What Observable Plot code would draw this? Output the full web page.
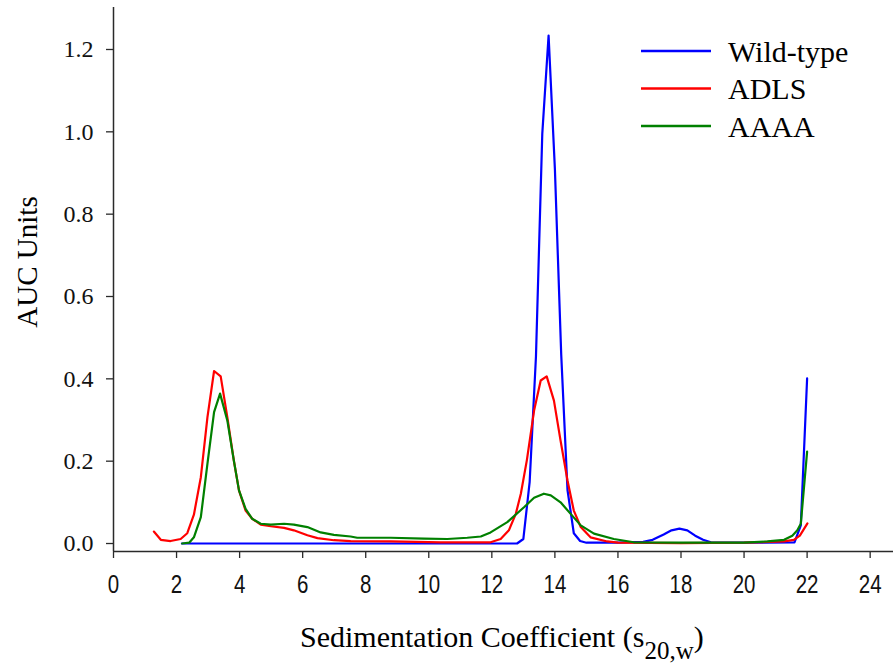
<!DOCTYPE html>
<html>
<head>
<meta charset="utf-8">
<script src="https://cdn.jsdelivr.net/npm/d3@7"></script>
<script src="https://cdn.jsdelivr.net/npm/@observablehq/plot@0.6"></script>
<style>
  html, body { margin: 0; padding: 0; background: #fff; }
  #chart { width: 893px; height: 671px; }
</style>
</head>
<body>
<div id="chart"></div>
<script>
// ---- Data ----
const seriesNames = ["Wild-type", "ADLS", "AAAA"];
const seriesColors = ["#0000ff", "#ff0000", "#008000"];

const wtS = [2.17, 4, 6, 8, 10, 12, 12.8, 13.0, 13.2, 13.4, 13.6, 13.8, 14.0, 14.2, 14.4, 14.6, 14.8, 15.0, 16.0, 16.8, 17.1, 17.45, 17.7, 17.95, 18.2, 18.45, 18.7, 18.95, 20.0, 21.6, 21.8, 22.0];
const wtV = [0, 0, 0, 0, 0, 0, 0, 0.011, 0.15, 0.455, 0.995, 1.234, 0.91, 0.46, 0.13, 0.025, 0.006, 0.002, 0.002, 0.004, 0.009, 0.022, 0.032, 0.036, 0.032, 0.019, 0.009, 0.003, 0.002, 0.003, 0.044, 0.401];

const adlsS = [1.28, 1.5, 1.81, 2.13, 2.34, 2.55, 2.77, 2.98, 3.19, 3.4, 3.61, 3.82, 3.98, 4.19, 4.4, 4.67, 4.99, 5.41, 5.72, 6.15, 6.47, 6.99, 7.52, 8.79, 10.38, 11.65, 11.96, 12.28, 12.54, 12.76, 12.92, 13.11, 13.34, 13.55, 13.74, 13.97, 14.18, 14.4, 14.6, 14.82, 15.13, 15.66, 16.0, 18.0, 20.0, 21.27, 21.58, 21.77, 22.01];
const adlsV = [0.029, 0.009, 0.006, 0.011, 0.025, 0.07, 0.161, 0.307, 0.419, 0.406, 0.307, 0.2, 0.129, 0.08, 0.06, 0.046, 0.042, 0.038, 0.032, 0.02, 0.013, 0.008, 0.006, 0.005, 0.003, 0.003, 0.003, 0.011, 0.032, 0.072, 0.121, 0.202, 0.323, 0.396, 0.406, 0.347, 0.25, 0.153, 0.08, 0.04, 0.015, 0.005, 0.002, 0.001, 0.002, 0.005, 0.009, 0.019, 0.049];

const aaaaS = [2.18, 2.4, 2.55, 2.77, 2.98, 3.19, 3.38, 3.61, 3.82, 3.98, 4.19, 4.4, 4.67, 4.99, 5.41, 5.72, 6.15, 6.57, 6.99, 7.52, 7.73, 8.79, 9.85, 10.59, 11.22, 11.65, 11.96, 12.49, 13.02, 13.34, 13.65, 13.87, 14.18, 14.5, 14.82, 15.24, 15.87, 16.5, 18.0, 20.0, 20.74, 21.27, 21.53, 21.69, 21.8, 22.0];
const aaaaV = [0, 0.002, 0.015, 0.064, 0.194, 0.319, 0.364, 0.299, 0.2, 0.129, 0.084, 0.06, 0.048, 0.046, 0.048, 0.046, 0.04, 0.027, 0.021, 0.017, 0.014, 0.014, 0.012, 0.011, 0.014, 0.017, 0.027, 0.052, 0.088, 0.111, 0.121, 0.117, 0.1, 0.072, 0.044, 0.024, 0.011, 0.003, 0.002, 0.002, 0.005, 0.009, 0.019, 0.032, 0.048, 0.223];

const xTicks = [0, 2, 4, 6, 8, 10, 12, 14, 16, 18, 20, 22, 24];
const yTicks = [0, 0.2, 0.4, 0.6, 0.8, 1.0, 1.2];
const xDomain = [0, 24.74];
const yDomain = [-0.0194, 1.302];

// ---- Build table ----
const pairs = [[wtS, wtV], [adlsS, adlsV], [aaaaS, aaaaV]];
const rows = [];
pairs.forEach(([S, V], i) => S.forEach((s, j) => rows.push({series: seriesNames[i], s, v: V[j]})));

const serif = "'Liberation Serif', 'Times New Roman', serif";
const sans = "'Liberation Sans', Arial, sans-serif";
const axisColor = "#2a2a2a";

const plot = Plot.plot({
  width: 893,
  height: 671,
  marginLeft: 113,
  marginRight: 0,
  marginTop: 7,
  marginBottom: 120,
  style: {background: "#fff", overflow: "visible"},
  x: {domain: xDomain},
  y: {domain: yDomain},
  color: {domain: seriesNames, range: seriesColors},
  marks: [
    Plot.axisX({ticks: xTicks, tickSize: 7, tickPadding: 17, label: null, stroke: axisColor, strokeWidth: 1.3, fill: "#111"}),
    Plot.axisY({ticks: yTicks, tickSize: 7, tickPadding: 13, tickFormat: d3.format(".1f"), label: null, stroke: axisColor, strokeWidth: 1.3, fill: "#111"}),
    Plot.ruleX([xDomain[0]], {stroke: axisColor, strokeWidth: 1.5}),
    Plot.ruleY([yDomain[0]], {stroke: axisColor, strokeWidth: 1.5}),
    Plot.line(rows, {x: "s", y: "v", z: "series", stroke: "series", strokeWidth: 2.2, curve: "linear"})
  ]
});

const svg = d3.select(plot);

// style tick labels: y labels contain a decimal point, x labels do not
svg.selectAll("text").each(function() {
  const t = d3.select(this);
  const s = this.textContent || "";
  if (s.includes(".")) {
    t.attr("font-family", serif).attr("font-size", 24)
     .style("font-family", serif).style("font-size", "24px");
  } else {
    t.attr("font-family", sans).attr("font-size", 25)
     .style("font-family", sans).style("font-size", "25px")
     .attr("transform", (t.attr("transform") || "") + " scale(0.82,1)");
  }
});

// Y-axis label
svg.append("text")
  .attr("transform", "translate(37,262) rotate(-90)")
  .attr("text-anchor", "middle")
  .attr("font-family", serif)
  .attr("font-size", 29)
  .attr("fill", "#000")
  .text("AUC Units");

// X-axis label with subscript
const xl = svg.append("text")
  .attr("x", 300)
  .attr("y", 647)
  .attr("text-anchor", "start")
  .attr("font-family", serif)
  .attr("font-size", 30)
  .attr("fill", "#000");
xl.append("tspan").text("Sedimentation Coefficient (s");
xl.append("tspan").attr("font-size", 25).attr("dy", 12).text("20,w");
xl.append("tspan").attr("dy", -12).text(")");

// Legend
const legend = svg.append("g").attr("transform", "translate(641,51)");
seriesNames.forEach((name, i) => {
  const g = legend.append("g").attr("transform", `translate(0,${i * 37.5})`);
  g.append("line").attr("x1", 0).attr("x2", 70).attr("y1", 0).attr("y2", 0)
    .attr("stroke", seriesColors[i]).attr("stroke-width", 2.5);
  g.append("text").attr("x", 87).attr("y", 10.5)
    .attr("text-anchor", "start")
    .attr("font-family", serif).attr("font-size", 30).attr("fill", "#000")
    .text(name);
});

document.getElementById("chart").appendChild(plot);
</script>
</body>
</html>
